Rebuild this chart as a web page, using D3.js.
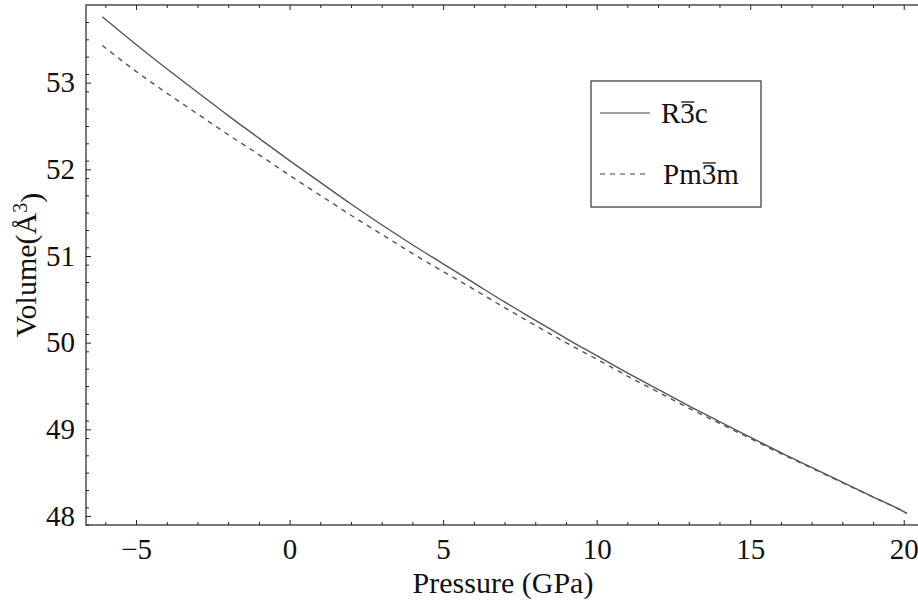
<!DOCTYPE html>
<html>
<head>
<meta charset="utf-8">
<script src="https://cdn.jsdelivr.net/npm/d3@7"></script>
<style>
  html, body { margin: 0; padding: 0; background: #fff; }
  svg { display: block; }
  text { font-family: "Liberation Serif", "Times New Roman", serif; fill: #111; }
</style>
</head>
<body>
<script>
// Equation-of-state curves: unit-cell volume vs. pressure for two phases
const pressures = [-6.1, -5, -4, -3, -2, -1, 0, 1, 2, 3, 4, 5, 6, 7, 8, 9, 10,
                   11, 12, 13, 14, 15, 16, 17, 18, 19, 20, 20.1];
const volumeR3c = [53.76, 53.44, 53.16, 52.89, 52.62, 52.36, 52.10, 51.85, 51.60, 51.36,
                   51.13, 50.91, 50.69, 50.47, 50.26, 50.05, 49.85, 49.65, 49.46, 49.27,
                   49.09, 48.91, 48.73, 48.56, 48.39, 48.22, 48.05, 48.03];
const volumePm3m = [53.43, 53.13, 52.88, 52.64, 52.40, 52.17, 51.93, 51.70, 51.47, 51.25,
                    51.03, 50.82, 50.615, 50.405, 50.20, 50.00, 49.81, 49.615, 49.43, 49.245,
                    49.07, 48.895, 48.72, 48.553, 48.385, 48.218, 48.05, 48.03];

const xMajorTicks = [-5, 0, 5, 10, 15, 20];
const yMajorTicks = [48, 49, 50, 51, 52, 53];
const xDomain = [-6.63, 20.53];
const yDomain = [47.896, 53.896];

const series = [
  { name: "R", bar: "3", tail: "c", values: volumeR3c, dash: null },
  { name: "Pm", bar: "3", tail: "m", values: volumePm3m, dash: "5,5" }
];

const W = 918, H = 604;
const plot = { left: 86, right: 920, top: 5, bottom: 525 };

const svg = d3.select("body").append("svg").attr("width", W).attr("height", H);

const x = d3.scaleLinear().domain(xDomain).range([plot.left, plot.right]);
const y = d3.scaleLinear().domain(yDomain).range([plot.bottom, plot.top]);

const xMinor = d3.range(-6, 21, 1).filter(v => !xMajorTicks.includes(v));
const yMinor = d3.range(47.9, 53.9001, 0.2).map(v => +v.toFixed(1))
  .filter(v => !yMajorTicks.includes(v) && v >= yDomain[0] && v <= yDomain[1]);

function styleAxis(g) {
  g.select(".domain").remove();
  g.selectAll("line").attr("stroke", "#222").attr("stroke-width", 1);
  g.selectAll("text").style("font-size", "29px");
}

// frame
svg.append("rect")
  .attr("x", plot.left).attr("y", plot.top)
  .attr("width", plot.right - plot.left).attr("height", plot.bottom - plot.top)
  .attr("fill", "none").attr("stroke", "#222").attr("stroke-width", 1.2);

// bottom axis (ticks pointing inward)
svg.append("g").attr("transform", `translate(0,${plot.bottom})`)
  .call(d3.axisBottom(x).tickValues(xMajorTicks).tickSizeInner(-5).tickSizeOuter(0)
        .tickPadding(13).tickFormat(d => d < 0 ? "\u2212" + Math.abs(d) : d))
  .call(styleAxis)
  .call(g => g.selectAll("text").attr("dy", "0.71em"));
svg.append("g").attr("transform", `translate(0,${plot.bottom})`)
  .call(d3.axisBottom(x).tickValues(xMinor).tickSizeInner(-3).tickSizeOuter(0).tickFormat(""))
  .call(styleAxis);

// top axis mirrors ticks
svg.append("g").attr("transform", `translate(0,${plot.top})`)
  .call(d3.axisTop(x).tickValues(xMajorTicks).tickSizeInner(-5).tickSizeOuter(0).tickFormat(""))
  .call(styleAxis);
svg.append("g").attr("transform", `translate(0,${plot.top})`)
  .call(d3.axisTop(x).tickValues(xMinor).tickSizeInner(-3).tickSizeOuter(0).tickFormat(""))
  .call(styleAxis);

// left axis
svg.append("g").attr("transform", `translate(${plot.left},0)`)
  .call(d3.axisLeft(y).tickValues(yMajorTicks).tickSizeInner(-5).tickSizeOuter(0)
        .tickPadding(11).tickFormat(d3.format("d")))
  .call(styleAxis);
svg.append("g").attr("transform", `translate(${plot.left},0)`)
  .call(d3.axisLeft(y).tickValues(yMinor).tickSizeInner(-3).tickSizeOuter(0).tickFormat(""))
  .call(styleAxis);

// curves
const line = d3.line()
  .x((d, i) => x(pressures[i]))
  .y(d => y(d))
  .curve(d3.curveMonotoneX);

series.forEach(s => {
  svg.append("path")
    .datum(s.values)
    .attr("d", line)
    .attr("fill", "none")
    .attr("stroke", "#555")
    .attr("stroke-width", 1.4)
    .attr("stroke-dasharray", s.dash);
});

// axis titles
svg.append("text")
  .attr("x", (plot.left + plot.right) / 2).attr("y", 593)
  .attr("text-anchor", "middle").style("font-size", "30px")
  .text("Pressure (GPa)");

const yTitle = svg.append("text")
  .attr("transform", `translate(36,${(plot.top + plot.bottom) / 2}) rotate(-90)`)
  .attr("text-anchor", "middle").style("font-size", "30px");
yTitle.append("tspan").text("Volume(\u00C5");
yTitle.append("tspan").attr("dy", "-0.45em").style("font-size", "20px").text("3");
yTitle.append("tspan").attr("dy", "0.45em").text(")");

// legend
const legend = svg.append("g");
legend.append("rect")
  .attr("x", 591).attr("y", 81).attr("width", 170).attr("height", 126)
  .attr("fill", "#fff").attr("stroke", "#333").attr("stroke-width", 1.2);

series.forEach((s, i) => {
  const cy = 113 + i * 61;
  const base = cy + 10;
  legend.append("line")
    .attr("x1", 600).attr("x2", 650).attr("y1", cy).attr("y2", cy)
    .attr("stroke", "#444").attr("stroke-width", 1.2)
    .attr("stroke-dasharray", s.dash);
  const label = s.name + s.bar + s.tail;
  const t = legend.append("text")
    .attr("x", i === 0 ? 661 : 663).attr("y", base)
    .style("font-size", "29px")
    .text(label);
  // thin bar over the rotoinversion digit
  const node = t.node();
  const k = s.name.length;
  const x0 = node.getStartPositionOfChar(k).x;
  const x1 = node.getEndPositionOfChar(k).x;
  legend.append("line")
    .attr("x1", x0 + 1).attr("x2", x1 - 0.5)
    .attr("y1", base - 21).attr("y2", base - 21)
    .attr("stroke", "#111").attr("stroke-width", 1.3);
});
</script>
</body>
</html>
